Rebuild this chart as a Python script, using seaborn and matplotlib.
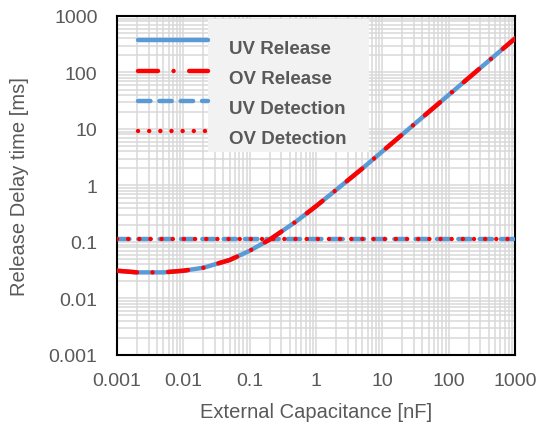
import numpy as np
import pandas as pd
import seaborn as sns
import matplotlib
matplotlib.use("Agg")
import matplotlib.pyplot as plt
from matplotlib.lines import Line2D
from matplotlib.patches import Rectangle
from matplotlib.legend_handler import HandlerLine2D
from matplotlib.ticker import FixedLocator, FuncFormatter, LogLocator, NullFormatter

# ---- data ----
cap_nf = [0.001, 0.002, 0.005, 0.01, 0.02, 0.05, 0.1, 0.2, 0.5, 1, 2, 5, 10,
          20, 50, 100, 200, 500, 1000]
uv_release = [0.031, 0.029, 0.029, 0.031, 0.035, 0.048, 0.070, 0.110, 0.23,
              0.43, 0.83, 2.0, 4.0, 8.0, 20, 40, 80, 200, 400]
ov_release = [0.031, 0.029, 0.029, 0.031, 0.035, 0.048, 0.070, 0.110, 0.23,
              0.43, 0.83, 2.0, 4.0, 8.0, 20, 40, 80, 200, 400]
det_cap = [0.001, 1000]
uv_detection = [0.113, 0.113]
ov_detection = [0.113, 0.113]
x_ticks = [0.001, 0.01, 0.1, 1, 10, 100, 1000]
y_ticks = [0.001, 0.01, 0.1, 1, 10, 100, 1000]

sns.set_theme(style="white")
plt.rcParams['font.family'] = ['Liberation Sans', 'DejaVu Sans']

GRAY = "#595959"
BLUE = "#5b9bd5"
RED = "#ff0000"


class ShiftedLine(HandlerLine2D):
    """Legend line handle drawn slightly above the text centre."""
    def __init__(self, dy=0.0, **kw):
        super().__init__(**kw)
        self.dy = dy

    def create_artists(self, legend, orig_handle, xdescent, ydescent,
                       width, height, fontsize, trans):
        arts = super().create_artists(legend, orig_handle, xdescent, ydescent,
                                      width, height, fontsize, trans)
        for a in arts:
            a.set_ydata(np.asarray(a.get_ydata(), dtype=float) + self.dy)
        return arts


fig = plt.figure(figsize=(5.41, 4.27), dpi=100)
ax = fig.add_axes([0.2163, 0.1663, 0.9519 - 0.2163, 0.9602 - 0.1663])

df_rel = pd.DataFrame({"C": cap_nf, "UV": uv_release, "OV": ov_release})
df_det = pd.DataFrame({"C": det_cap, "UV": uv_detection, "OV": ov_detection})

lw = 3.2
sns.lineplot(data=df_rel, x="C", y="UV", ax=ax, color=BLUE, lw=lw,
             label="UV Release", zorder=3)
sns.lineplot(data=df_rel, x="C", y="OV", ax=ax, color=RED, lw=lw,
             label="OV Release", zorder=4)
sns.lineplot(data=df_det, x="C", y="UV", ax=ax, color=BLUE, lw=lw,
             label="UV Detection", zorder=3)
sns.lineplot(data=df_det, x="C", y="OV", ax=ax, color=RED, lw=lw,
             label="OV Detection", zorder=4)

lines = ax.get_lines()
lines[0].set_solid_capstyle("round")
lines[1].set_dashes((4.5, 3.5, 0.01, 3.5))
lines[1].set_dash_capstyle("round")
lines[2].set_dashes((2.8, 2.0))
lines[2].set_dash_capstyle("round")
lines[3].set_dashes((0.01, 2.5))
lines[3].set_dash_capstyle("round")

ax.set_xscale("log")
ax.set_yscale("log")
ax.set_xlim(0.001, 1000)
ax.set_ylim(0.001, 1000)

ax.xaxis.set_major_locator(FixedLocator(x_ticks))
ax.yaxis.set_major_locator(FixedLocator(y_ticks))
fmt = FuncFormatter(lambda v, p: "%g" % v)
ax.xaxis.set_major_formatter(fmt)
ax.yaxis.set_major_formatter(fmt)
ax.xaxis.set_minor_locator(LogLocator(base=10, subs=np.arange(2, 10), numticks=100))
ax.yaxis.set_minor_locator(LogLocator(base=10, subs=np.arange(2, 10), numticks=100))
ax.xaxis.set_minor_formatter(NullFormatter())
ax.yaxis.set_minor_formatter(NullFormatter())

ax.grid(True, which="both", color="#d9d9d9", lw=1.1, zorder=0)
ax.set_axisbelow(True)
ax.tick_params(which="both", length=0, labelsize=14, labelcolor=GRAY)
ax.tick_params(axis="x", pad=12.5)
ax.tick_params(axis="y", pad=14)

for s in ax.spines.values():
    s.set_color("black")
    s.set_linewidth(1.5)
    s.set_visible(True)

ax.set_xlabel("External Capacitance [nF]", fontsize=14.5, color=GRAY, labelpad=9)
ax.set_ylabel("Release Delay time [ms]", fontsize=14.5, color=GRAY, labelpad=14)

# gray panel behind the legend text (handles sit over the grid, as in the reference)
ax.add_patch(Rectangle((0.2286, 0.599), 0.633 - 0.2286, 0.991 - 0.599,
                       transform=ax.transAxes, facecolor="#f2f2f2",
                       edgecolor="none", zorder=1))

leg = ax.legend(loc="upper left", bbox_to_anchor=(0.0075, 0.982), frameon=False,
                handlelength=3.73, handletextpad=1.12,
                labelspacing=0.69, borderpad=0.95, borderaxespad=0,
                handler_map={Line2D: ShiftedLine(dy=4.3)},
                prop={"weight": "bold", "size": 13.5})
for t in leg.get_texts():
    t.set_color(GRAY)
leg.set_zorder(5)

fig.savefig("out.png", dpi=100)
